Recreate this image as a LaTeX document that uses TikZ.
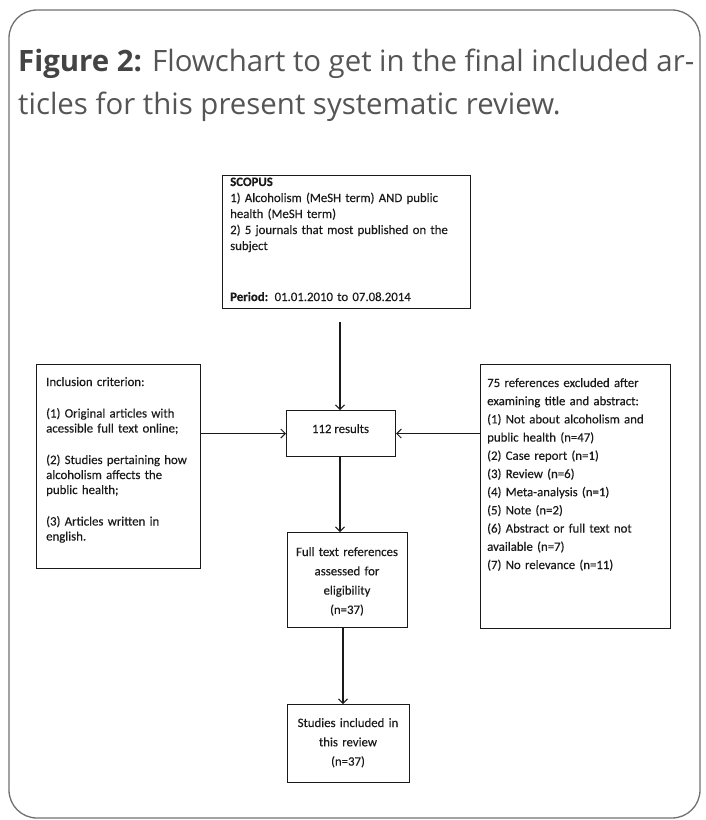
\documentclass[tikz,border=0pt]{standalone}
\usepackage{fontspec}
\usetikzlibrary{arrows.meta}
\newfontfamily\titlefont{Open Sans}
\newfontfamily\carl{Carlito}[FakeBold=0.3]
\definecolor{titlegray}{HTML}{555555}
\definecolor{titlebold}{HTML}{444444}
\definecolor{framegray}{HTML}{707070}
\definecolor{ink}{HTML}{1A1A1A}
\tikzset{
  box/.style={draw=ink, line width=1.1pt, inner sep=0pt, anchor=north west},
  txt/.style={inner sep=0pt, text=ink, font=\carl\fontsize{12.8}{15}\selectfont, align=left},
  ctxt/.style={inner sep=0pt, text=ink, font=\carl\fontsize{12.8}{19.3}\selectfont, align=center},
  arr/.style={draw=ink, line width=1.1pt, -{Straight Barb[length=4.5pt,width=9pt,line width=1pt]}},
  ttl/.style={inner sep=0pt, anchor=base west, text=titlegray, font=\titlefont\fontsize{29.4}{40}\selectfont}
}
\begin{document}
\begin{tikzpicture}[x=1pt,y=-1pt]
\useasboundingbox (0,0) rectangle (705,820);
\draw[framegray, line width=1.3pt, rounded corners=28pt] (9,10) rectangle (700,818);

\node[ttl] (t1) at (18,71) {\makebox[676pt][s]{\textcolor{titlebold}{\textbf{Figure 2:}} Flowchart to get in the final included ar-}};
\node[ttl] (t2) at (18,114) {ticles for this present systematic review.};

% boxes
\node[box, minimum width=248pt, minimum height=133pt] (scopus) at (222,175) {};
\node[box, minimum width=109pt, minimum height=46pt] (res) at (286,410) {};
\node[box, minimum width=164pt, minimum height=204pt] (inc) at (36,364) {};
\node[box, minimum width=190pt, minimum height=264pt] (exc) at (480,364) {};
\node[box, minimum width=120pt, minimum height=95pt] (full) at (287,532) {};
\node[box, minimum width=122pt, minimum height=78pt] (stud) at (287,704) {};

% texts
\node[txt, text width=240pt, anchor=base west, font=\carl\fontsize{12.8}{16}\selectfont] (scopust) at (230,186)
  {\textbf{SCOPUS}\\
   1) Alcoholism (MeSH term) AND public\\
   health (MeSH term)\\
   2) 5 journals that most published on the\\
   subject\\[35pt]
   \textbf{Period:} 01.01.2010 to 07.08.2014};
\node[txt, text width=150pt, anchor=base west] (inct) at (46,386)
  {Inclusion criterion:\\[16.5pt]
   (1) Original articles with\\
   acessible full text online;\\[16.5pt]
   (2) Studies pertaining how\\
   alcoholism affects the\\
   public health;\\[16.5pt]
   (3) Articles written in\\
   english.};
\node[txt, text width=180pt, anchor=base west, font=\carl\fontsize{12.8}{18.2}\selectfont] (exct) at (487,387)
  {75 references excluded after\\
   examining title and abstract:\\
   (1) Not about alcoholism and\\
   public health (n=47)\\
   (2) Case report (n=1)\\
   (3) Review (n=6)\\
   (4) Meta-analysis (n=1)\\
   (5) Note (n=2)\\
   (6) Abstract or full text not\\
   available (n=7)\\
   (7) No relevance (n=11)};
\node[ctxt, anchor=base] (rest) at (340.5,433) {112 results};
\node[ctxt, text width=118pt, anchor=base] (fullt) at (347,556)
  {Full text references\\ assessed for\\ eligibility\\ (n=37)};
\node[ctxt, text width=120pt, anchor=base] (studt) at (348,727)
  {Studies included in\\ this review\\ (n=37)};

% connectors
\coordinate (s1) at (340,322);
\coordinate (s2) at (343,627);
\draw[arr] (s1) -- (s1 |- res.north);
\draw[arr] (inc.east |- res.west) -- (res.west);
\draw[arr] (exc.west |- res.east) -- (res.east);
\draw[arr] (s1 |- res.south) -- (s1 |- full.north);
\draw[arr] (s2) -- (s2 |- stud.north);
\end{tikzpicture}
\end{document}
